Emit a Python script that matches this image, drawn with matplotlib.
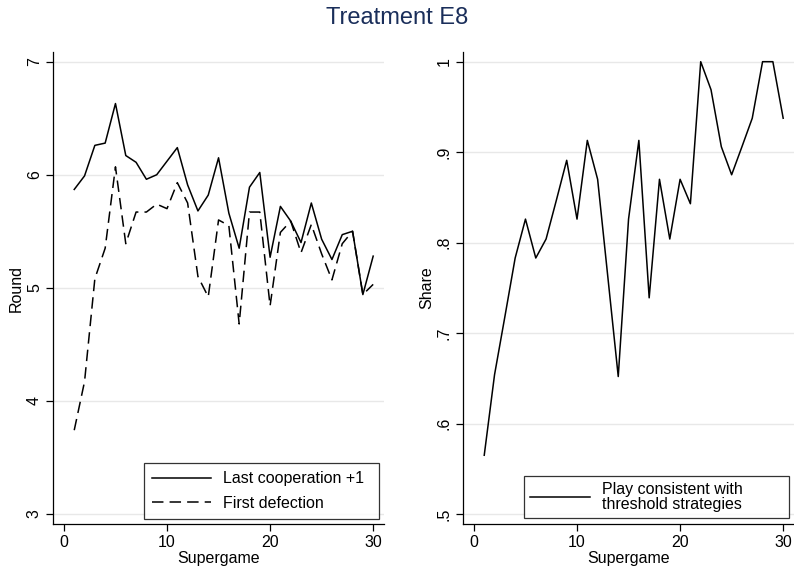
import matplotlib
matplotlib.use("Agg")
import matplotlib.pyplot as plt

plt.rcParams['font.family'] = ['Liberation Sans', 'DejaVu Sans']

supergame = list(range(1, 31))
last_coop = [5.87, 5.99, 6.26, 6.28, 6.63, 6.17, 6.11, 5.96, 6.00, 6.12,
             6.24, 5.91, 5.68, 5.82, 6.15, 5.66, 5.35, 5.89, 6.02, 5.27,
             5.72, 5.59, 5.40, 5.75, 5.43, 5.25, 5.47, 5.50, 4.94, 5.28]
first_def = [3.74, 4.17, 5.08, 5.35, 6.07, 5.39, 5.67, 5.67, 5.74, 5.70,
             5.93, 5.75, 5.10, 4.92, 5.60, 5.55, 4.68, 5.67, 5.67, 4.84,
             5.49, 5.59, 5.31, 5.56, 5.30, 5.07, 5.39, 5.50, 4.94, 5.03]
share = [0.565, 0.654, 0.718, 0.783, 0.826, 0.783, 0.804, 0.847, 0.891, 0.826,
         0.913, 0.870, 0.761, 0.652, 0.826, 0.913, 0.739, 0.870, 0.804, 0.870,
         0.843, 1.000, 0.969, 0.906, 0.875, 0.906, 0.9375, 1.000, 1.000, 0.9375]

left_yticks = [3, 4, 5, 6, 7]
left_ylabels = ["3", "4", "5", "6", "7"]
right_yticks = [0.5, 0.6, 0.7, 0.8, 0.9, 1.0]
right_ylabels = [".5", ".6", ".7", ".8", ".9", "1"]
xticks = [0, 10, 20, 30]

fig = plt.figure(figsize=(7.94, 5.71), dpi=100)
ax1 = fig.add_axes([53/794, 1-524/571, 331/794, 472/571])
ax2 = fig.add_axes([463/794, 1-524/571, 331/794, 472/571])

fs = 11.5
for ax in (ax1, ax2):
    for s in ('top', 'right'):
        ax.spines[s].set_visible(False)
    ax.spines['left'].set_linewidth(0.9)
    ax.spines['bottom'].set_linewidth(0.9)
    ax.tick_params(axis='both', direction='out', length=5, width=0.9, labelsize=fs, pad=3)
    ax.set_xticks(xticks)
    ax.set_xlim(-1.06, 31.05)
    ax.grid(axis='y', color='#e8e8e8', linewidth=1.0)
    ax.set_axisbelow(True)
    ax.set_xlabel("Supergame", fontsize=fs, labelpad=1)

lw = 1.1
ax1.plot(supergame, last_coop, color='black', lw=lw, label='Last cooperation +1')
ax1.plot(supergame, first_def, color='black', lw=lw, linestyle=(0, (7.5, 4)), label='First defection')
ax1.set_ylim(2.91, 7.086)
ax1.set_yticks(left_yticks)
ax1.set_yticklabels(left_ylabels, rotation=90, va='center')
ax1.set_ylabel("Round", fontsize=fs, labelpad=2)

leg1 = ax1.legend(loc='lower left', bbox_to_anchor=(0.275, 0.0106, 0.710, 0.2), mode='expand',
                  frameon=True, fancybox=False, edgecolor='black', fontsize=fs,
                  handlelength=3.7, borderpad=0.5, labelspacing=0.6, handletextpad=0.75,
                  borderaxespad=0.0)
leg1.get_frame().set_linewidth(0.9)

ax2.plot(supergame, share, color='black', lw=lw, label='Play consistent with\nthreshold strategies')
ax2.set_ylim(0.489, 1.0107)
ax2.set_yticks(right_yticks)
ax2.set_yticklabels(right_ylabels, rotation=90, va='center')
ax2.set_ylabel("Share", fontsize=fs, labelpad=2)
leg2 = ax2.legend(loc='lower left', bbox_to_anchor=(0.184, 0.0127, 0.801, 0.2), mode='expand',
                  frameon=True, fancybox=False, edgecolor='black', fontsize=fs,
                  handlelength=3.75, borderpad=0.4, labelspacing=0.3, handletextpad=0.75,
                  borderaxespad=0.0)
leg2.get_frame().set_linewidth(0.9)
for t in leg2.get_texts():
    t.set_linespacing(0.95)

fig.text(0.5, 1-18/571, "Treatment E8", ha='center', va='center', fontsize=17, color='#1a2e5a')

fig.savefig("out.png", dpi=100)
